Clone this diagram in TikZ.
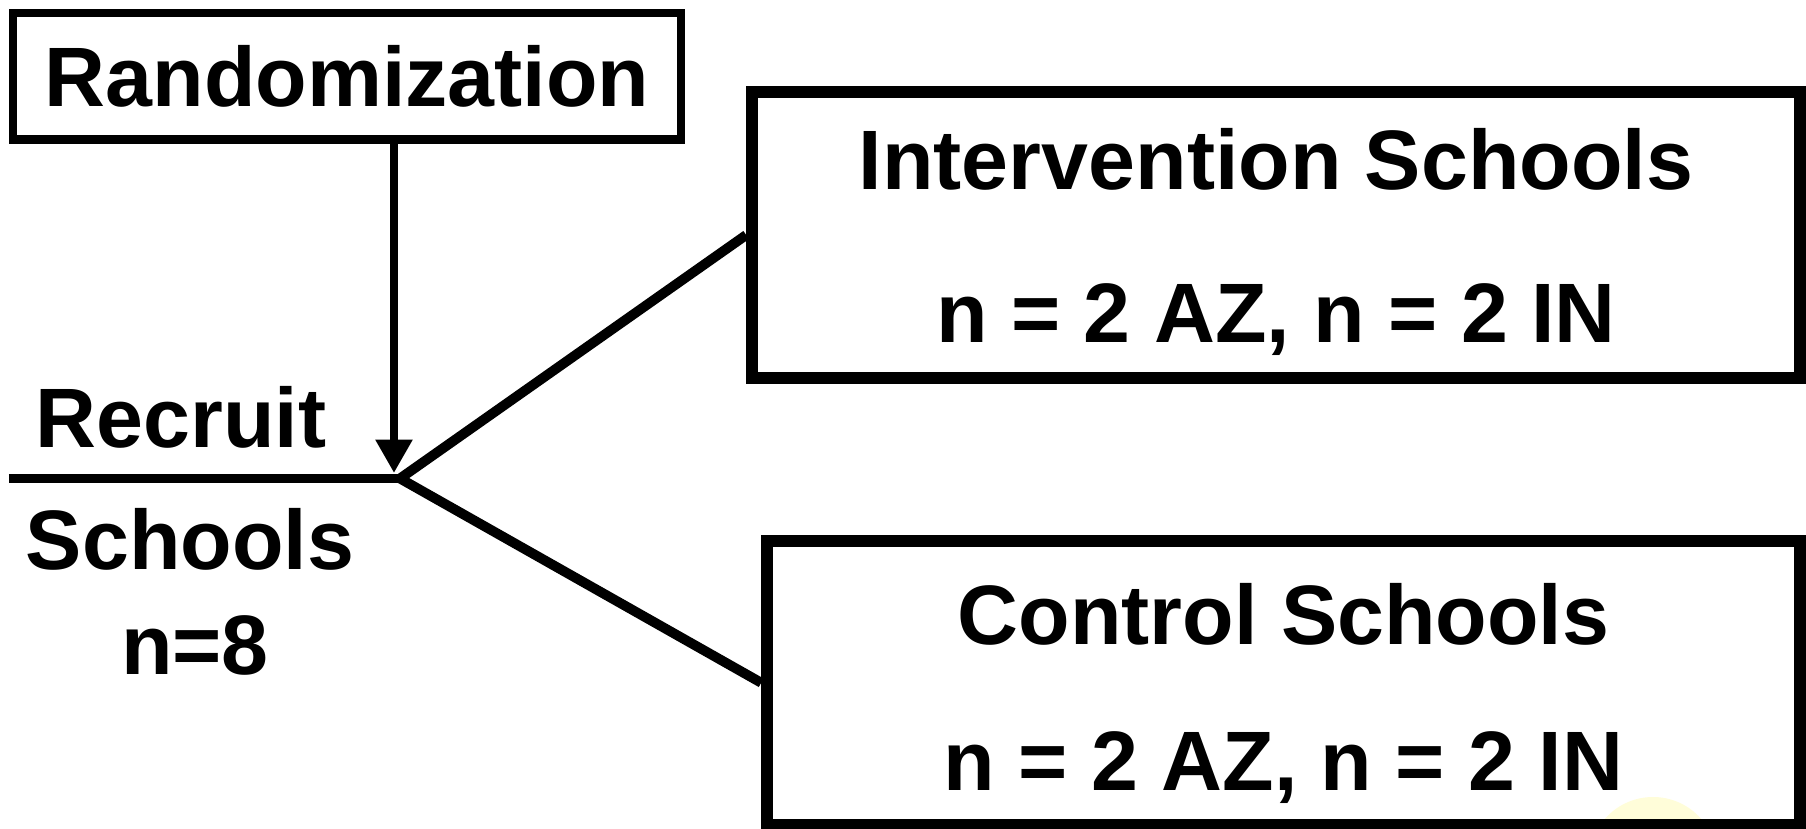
\documentclass[tikz,border=0pt]{standalone}
\usepackage{fontspec}
\setmainfont{Liberation Sans}
\usetikzlibrary{arrows.meta, positioning, calc}

\begin{document}
\begin{tikzpicture}[font=\fontsize{24}{30}\selectfont\bfseries,
  box/.style={draw, line width=3.3pt, inner sep=0pt},
  armtext/.style={align=center, inner sep=0pt},
  link/.style={line width=2.8pt}]
  \useasboundingbox (0,0) rectangle (18.06,-8.29);

  % faint mark in the corner
  \begin{scope}
    \clip (0,0) rectangle (18.06,-8.29);
    \fill[yellow!15] (16.53,-8.61) circle (0.64);
  \end{scope}

  % Randomization box
  \node[box, line width=2.4pt, minimum width=6.68cm, minimum height=1.265cm] (rand) at (3.47,-0.7625) {Randomization};

  % Study arms
  \node[box, minimum width=10.48cm, minimum height=2.86cm] (inter) at (12.76,-2.35) {};
  \node[armtext] (intertext) at ([yshift=-0.07cm]inter.center) {Intervention Schools\\[13.3pt]n = 2 AZ, n = 2 IN};
  \node[box, minimum width=10.33cm, minimum height=2.835cm] (ctrl) at (12.835,-6.8275) {};
  \node[armtext] (ctrltext) at ([yshift=-0.11cm]ctrl.center) {Control Schools\\[11.5pt]n = 2 AZ, n = 2 IN};

  % Recruit line
  \coordinate (hub) at (4.0,-4.785);
  \coordinate (start) at (0.09,-4.785);
  \coordinate (tip) at (3.94,-4.73);
  \draw[link] (start) -- (hub);
  \node (recruit) at (1.81,-4.17) {Recruit};
  \node[align=center] (schools) at (1.9,-5.92) {Schools\\\hspace*{0.1cm}n=8};

  % Connectors
  \draw[line width=2.3pt, -{Triangle[width=10pt,length=9.5pt]}] (rand.south -| tip) -- (tip);
  \draw[link] (hub) -- (inter.west);
  \draw[link] (hub) -- (ctrl.west);
\end{tikzpicture}
\end{document}
